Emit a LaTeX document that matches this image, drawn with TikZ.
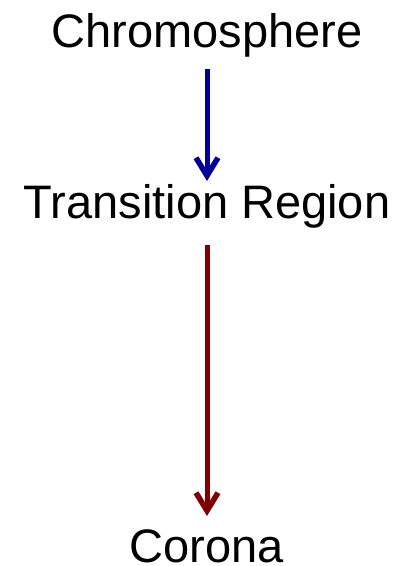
\documentclass[tikz,border=0pt]{standalone}
\usepackage{fontspec}
\setmainfont{Liberation Sans}
\usetikzlibrary{arrows.meta}
\definecolor{arrblue}{RGB}{0,0,150}
\definecolor{arrred}{RGB}{128,0,0}
\begin{document}
\begin{tikzpicture}[x=1pt,y=1pt,
  lbl/.style={inner sep=0pt, anchor=base, font=\fontsize{47}{50}\selectfont},
  flow/.style={line width=5pt, -{Straight Barb[length=18pt,width=22pt,line width=5.5pt]}}]
\useasboundingbox (0,0) rectangle (416,566);
\node[lbl] (chromo) at (207,518) {Chromosphere};
\node[lbl] (trans) at (207,347) {Transition Region};
\node[lbl] (corona) at (207,4) {Corona};
\coordinate (b1) at (207,497);
\coordinate (b2) at (207,385);
\coordinate (r1) at (207,321);
\coordinate (r2) at (207,50);
\draw[flow, arrblue] (b1) -- (b2);
\draw[flow, arrred] (r1) -- (r2);
\end{tikzpicture}
\end{document}
